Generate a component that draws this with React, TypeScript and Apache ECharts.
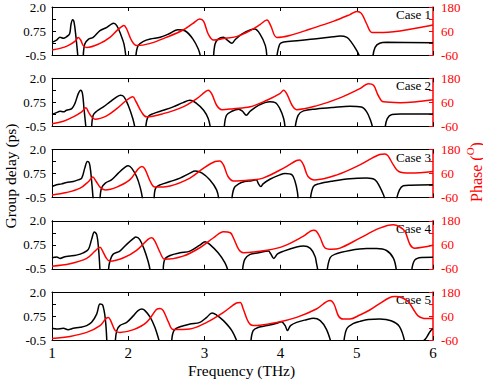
import React, { useEffect, useRef } from "react";
import * as echarts from "echarts";

type P = [number, number | null];

const freqTicks = [1, 2, 3, 4, 5, 6];
const caseNames = ["Case 1", "Case 2", "Case 3", "Case 4", "Case 5"];

const gd1: P[] = [
  [1.0, 0.16], [1.06, 0.28], [1.105, 0.42], [1.15, 0.37], [1.19, 0.45], [1.23, 0.59], [1.25, 1.11], [1.27, 1.34], [1.29, 1.2], [1.315, 0.42], [1.34, -0.6], [1.37, null],
  [1.41, -0.6], [1.43, 0.07], [1.48, 0.33], [1.54, 0.42], [1.63, 0.77], [1.72, 0.94], [1.78, 1.11], [1.81, 1.15], [1.85, 1.03], [1.9, 0.59], [1.945, 0.07], [1.97, -0.6], [2.0, null],
  [2.1, -0.6], [2.13, -0.01], [2.2, 0.21], [2.29, 0.33], [2.42, 0.42], [2.55, 0.63], [2.65, 0.82], [2.75, 0.75], [2.85, 0.33], [2.92, -0.19], [2.95, -0.6], [3.0, null],
  [3.12, -0.6], [3.14, 0.07], [3.18, 0.33], [3.25, 0.42], [3.3, 0.28], [3.36, 0.11], [3.4, 0.28], [3.49, 0.59], [3.6, 0.8], [3.66, 0.85], [3.73, 0.59], [3.8, -0.01], [3.82, -0.6], [3.9, null],
  [3.95, -0.6], [3.99, 0.07], [4.04, 0.18], [4.25, 0.25], [4.47, 0.35], [4.69, 0.45], [4.78, 0.49], [4.87, 0.42], [4.93, 0.16], [5.0, -0.27], [5.04, -0.6], [5.1, null],
  [5.21, -0.6], [5.24, -0.1], [5.3, 0.11], [5.39, 0.16], [6.0, 0.14],
];
const ph1: P[] = [
  [1.0, -35], [1.105, -27], [1.21, -13], [1.3, 8], [1.345, 28], [1.376, 15], [1.41, -13], [1.455, -22], [1.63, -2], [1.76, 28], [1.85, 62], [1.914, 82], [1.945, 87], [1.98, 70], [2.045, 12], [2.11, -13],
  [2.29, -2], [2.5, 28], [2.72, 65], [2.85, 98], [2.94, 120], [2.99, 108], [3.05, 45], [3.12, 15], [3.25, 22], [3.42, 32], [3.6, 62], [3.73, 92], [3.82, 115], [3.87, 87], [3.95, 28],
  [4.12, 38], [4.39, 70], [4.69, 108], [4.91, 142], [5.0, 158], [5.06, 148], [5.13, 95], [5.2, 53], [5.35, 53], [5.79, 75], [6.0, 90],
];

const gd2: P[] = [
  [1.0, 0.11], [1.06, 0.21], [1.105, 0.28], [1.15, 0.25], [1.19, 0.33], [1.26, 0.42], [1.3, 0.68], [1.345, 1.2], [1.376, 1.375], [1.4, 1.2], [1.42, 0.42], [1.446, -0.6], [1.48, null],
  [1.52, -0.6], [1.54, 0.07], [1.586, 0.28], [1.674, 0.51], [1.76, 0.77], [1.85, 1.03], [1.9, 1.11], [1.945, 1.03], [2.0, 0.59], [2.06, -0.1], [2.09, -0.6], [2.15, null],
  [2.23, -0.6], [2.26, -0.01], [2.33, 0.16], [2.46, 0.33], [2.59, 0.51], [2.72, 0.73], [2.81, 0.85], [2.9, 0.68], [2.99, 0.33], [3.05, -0.1], [3.08, -0.6], [3.15, null],
  [3.26, -0.6], [3.29, 0.07], [3.36, 0.28], [3.45, 0.39], [3.5, 0.28], [3.55, 0.07], [3.6, 0.28], [3.71, 0.59], [3.86, 0.77], [3.93, 0.73], [3.99, 0.42], [4.04, -0.1], [4.06, -0.6], [4.12, null],
  [4.19, -0.6], [4.23, 0.07], [4.3, 0.3], [4.47, 0.4], [4.69, 0.48], [4.91, 0.54], [5.06, 0.5], [5.13, 0.25], [5.18, -0.19], [5.21, -0.6], [5.3, null],
  [5.37, -0.6], [5.4, -0.1], [5.46, 0.11], [5.57, 0.14], [6.0, 0.14],
];
const ph2: P[] = [
  [1.0, -47], [1.15, -35], [1.28, -13], [1.39, 12], [1.446, 32], [1.477, 12], [1.52, -13], [1.564, -25], [1.717, -8], [1.85, 28], [1.98, 70], [2.06, 87], [2.1, 65], [2.18, 8], [2.24, -13],
  [2.46, 3], [2.72, 37], [2.9, 78], [3.01, 112], [3.05, 120], [3.095, 103], [3.16, 45], [3.23, 23], [3.38, 28], [3.6, 37], [3.82, 70], [3.99, 103], [4.04, 120], [4.08, 103], [4.15, 45],
  [4.21, 23], [4.47, 42], [4.78, 82], [5.04, 128], [5.15, 153], [5.22, 145], [5.28, 95], [5.35, 62], [5.57, 58], [6.0, 73],
];

const gd3: P[] = [
  [1.0, 0.07], [1.06, 0.16], [1.127, 0.21], [1.19, 0.28], [1.28, 0.33], [1.345, 0.42], [1.39, 0.51], [1.43, 1.03], [1.464, 1.375], [1.49, 1.29], [1.51, 0.77], [1.53, -0.1], [1.54, -0.6], [1.58, null],
  [1.63, -0.6], [1.65, -0.01], [1.7, 0.25], [1.78, 0.42], [1.87, 0.77], [1.96, 1.08], [2.0, 1.15], [2.045, 1.03], [2.11, 0.59], [2.16, -0.01], [2.19, -0.6], [2.25, null],
  [2.34, -0.6], [2.36, -0.01], [2.42, 0.16], [2.55, 0.33], [2.68, 0.51], [2.81, 0.77], [2.88, 0.88], [2.97, 0.77], [3.07, 0.42], [3.16, -0.1], [3.19, -0.6], [3.25, null],
  [3.36, -0.6], [3.39, -0.01], [3.45, 0.21], [3.53, 0.33], [3.62, 0.37], [3.68, 0.42], [3.71, 0.21], [3.74, 0.07], [3.77, 0.21], [3.86, 0.45], [3.99, 0.68], [4.06, 0.75], [4.15, 0.68], [4.19, 0.33], [4.22, -0.19], [4.23, -0.6], [4.3, null],
  [4.39, -0.6], [4.43, 0.07], [4.5, 0.21], [4.69, 0.36], [4.91, 0.48], [5.13, 0.51], [5.24, 0.42], [5.3, 0.07], [5.35, -0.36], [5.37, -0.6], [5.45, null],
  [5.52, -0.6], [5.56, -0.1], [5.61, 0.11], [5.7, 0.14], [6.0, 0.16],
];
const ph3: P[] = [
  [1.0, -47], [1.19, -35], [1.37, -13], [1.48, 20], [1.534, 42], [1.58, 20], [1.63, -8], [1.7, -22], [1.85, -8], [2.02, 28], [2.13, 82], [2.18, 95], [2.22, 82], [2.29, 20], [2.35, -8],
  [2.55, -2], [2.81, 37], [2.99, 87], [3.14, 120], [3.2, 123], [3.25, 103], [3.31, 45], [3.38, 23], [3.6, 28], [3.77, 37], [4.04, 87], [4.21, 125], [4.25, 128], [4.3, 103], [4.36, 45],
  [4.45, 28], [4.74, 53], [5.04, 103], [5.3, 155], [5.37, 158], [5.41, 148], [5.48, 103], [5.55, 70], [5.7, 62], [6.0, 70],
];

const gd4: P[] = [
  [1.0, 0.07], [1.06, 0.11], [1.105, 0.04], [1.17, 0.13], [1.236, 0.16], [1.32, 0.21], [1.41, 0.33], [1.477, 0.51], [1.52, 1.03], [1.556, 1.41], [1.586, 1.29], [1.61, 0.59], [1.63, -0.6], [1.68, null],
  [1.74, -0.6], [1.76, -0.1], [1.8, 0.25], [1.89, 0.42], [1.98, 0.77], [2.07, 1.08], [2.1, 1.15], [2.15, 1.03], [2.21, 0.51], [2.26, -0.1], [2.29, -0.6], [2.35, null],
  [2.46, -0.6], [2.48, -0.01], [2.55, 0.19], [2.68, 0.33], [2.81, 0.42], [2.94, 0.73], [3.01, 0.91], [3.07, 0.77], [3.18, 0.33], [3.27, -0.19], [3.31, -0.6], [3.4, null],
  [3.5, -0.6], [3.53, -0.01], [3.6, 0.25], [3.71, 0.33], [3.84, 0.42], [3.87, 0.28], [3.91, 0.04], [3.96, 0.28], [4.04, 0.42], [4.21, 0.63], [4.3, 0.68], [4.39, 0.56], [4.45, 0.16], [4.47, -0.19], [4.49, -0.6], [4.55, null],
  [4.61, -0.6], [4.65, 0.07], [4.71, 0.25], [4.91, 0.45], [5.13, 0.55], [5.26, 0.55], [5.39, 0.45], [5.48, 0.05], [5.52, -0.6], [5.6, null],
  [5.72, -0.6], [5.76, -0.05], [5.85, 0.09], [6.0, 0.1],
];
const ph4: P[] = [
  [1.0, -47], [1.236, -35], [1.455, -8], [1.564, 28], [1.63, 48], [1.665, 28], [1.71, -5], [1.76, -22], [1.94, -5], [2.11, 32], [2.26, 87], [2.31, 95], [2.35, 78], [2.42, 20], [2.48, -13],
  [2.72, 3], [2.94, 45], [3.12, 95], [3.25, 125], [3.34, 120], [3.38, 95], [3.45, 37], [3.51, 20], [3.82, 32], [4.04, 53], [4.3, 103], [4.43, 133], [4.47, 128], [4.52, 95], [4.58, 45],
  [4.67, 37], [4.78, 43], [5.04, 93], [5.3, 143], [5.48, 160], [5.56, 150], [5.63, 128], [5.7, 60], [5.76, 43], [6.0, 57],
];

const gd5: P[] = [
  [1.0, 0.11], [1.06, 0.07], [1.15, 0.11], [1.21, 0.04], [1.28, 0.11], [1.37, 0.16], [1.455, 0.25], [1.52, 0.42], [1.586, 0.85], [1.63, 1.375], [1.665, 1.32], [1.7, 0.59], [1.72, -0.6], [1.77, null],
  [1.83, -0.6], [1.85, -0.01], [1.89, 0.25], [1.98, 0.42], [2.07, 0.77], [2.13, 1.03], [2.18, 1.11], [2.22, 1.03], [2.29, 0.68], [2.35, 0.16], [2.41, -0.6], [2.5, null],
  [2.57, -0.6], [2.6, -0.01], [2.68, 0.19], [2.81, 0.33], [2.94, 0.42], [3.03, 0.68], [3.1, 0.91], [3.16, 0.8], [3.25, 0.51], [3.36, -0.01], [3.43, -0.6], [3.5, null],
  [3.61, -0.6], [3.64, -0.01], [3.71, 0.16], [3.82, 0.25], [3.95, 0.37], [4.01, 0.45], [4.06, 0.25], [4.09, -0.01], [4.13, 0.25], [4.21, 0.42], [4.34, 0.56], [4.43, 0.63], [4.52, 0.51], [4.6, 0.07], [4.66, -0.6], [4.73, null],
  [4.83, -0.6], [4.87, 0.1], [4.95, 0.35], [5.04, 0.47], [5.15, 0.57], [5.3, 0.59], [5.45, 0.5], [5.56, 0.2], [5.63, -0.6], [5.75, null],
  [5.86, -0.6], [5.9, -0.45], [5.94, -0.2], [5.98, 0.04], [6.0, 0.07],
];
const ph5: P[] = [
  [1.0, -52], [1.236, -42], [1.455, -22], [1.63, 12], [1.71, 48], [1.74, 53], [1.77, 37], [1.83, -13], [1.89, -22], [2.07, -8], [2.24, 28], [2.37, 92], [2.42, 98], [2.46, 87], [2.53, 28],
  [2.59, -8], [2.81, -5], [3.03, 28], [3.25, 78], [3.42, 125], [3.47, 128], [3.51, 95], [3.58, 28], [3.64, 12], [3.95, 28], [4.21, 53], [4.47, 95], [4.65, 137], [4.7, 120], [4.76, 60],
  [4.82, 45], [4.91, 45], [5.04, 65], [5.17, 90], [5.3, 122], [5.42, 150], [5.5, 157], [5.6, 150], [5.68, 130], [5.74, 95], [5.8, 62], [5.88, 48], [6.0, 47],
];

const delaySeries = [gd1, gd2, gd3, gd4, gd5];
const phaseSeries = [ph1, ph2, ph3, ph4, ph5];

const FONT = "'Liberation Serif', 'Times New Roman', serif";
const RED = "#ff0000";

export default function App() {
  const ref = useRef<HTMLDivElement>(null);
  useEffect(() => {
    if (!ref.current) return;
    const chart = echarts.init(ref.current, undefined, { renderer: "svg" });
    const L = 52, R = 50, H = 48, STEP = 71.25, TOP0 = 7;
    const grid: any[] = [];
    const xAxis: any[] = [];
    const yAxis: any[] = [];
    const series: any[] = [];
    const graphic: any[] = [];
    const fmtLeft = (v: number) => (v === 2 ? "2.0" : v === 0.75 ? "0.75" : v === -0.5 ? "-0.5" : "");
    for (let i = 0; i < 5; i++) {
      const top = TOP0 + i * STEP;
      grid.push({ left: L, right: R, top, height: H });
      const last = i === 4;
      xAxis.push({
        type: "value", gridIndex: i, position: "bottom", min: freqTicks[0], max: freqTicks[freqTicks.length - 1], interval: 1,
        axisLine: { show: true, onZero: false, lineStyle: { color: "#000", width: 1 } },
        axisTick: { show: true, inside: true, length: 4, lineStyle: { color: "#000" } },
        axisLabel: { show: last, color: "#000", fontFamily: FONT, fontSize: 15, margin: 5 },
        splitLine: { show: false },
      });
      xAxis.push({
        type: "value", gridIndex: i, position: "top", min: 1, max: 6, interval: 1,
        axisLine: { show: true, onZero: false, lineStyle: { color: "#000", width: 1 } },
        axisTick: { show: true, inside: true, length: 4, lineStyle: { color: "#000" } },
        axisLabel: { show: false },
        splitLine: { show: false },
      });
      yAxis.push({
        type: "value", gridIndex: i, position: "left", min: -0.5, max: 2.0, interval: 1.25,
        axisLine: { show: true, onZero: false, lineStyle: { color: "#000", width: 1 } },
        axisTick: { show: true, inside: true, length: 4, lineStyle: { color: "#000" } },
        minorTick: { show: true, splitNumber: 2, length: 4, lineStyle: { color: "#000" } },
        axisLabel: { color: "#000", fontFamily: FONT, fontSize: 13, margin: 6, formatter: fmtLeft },
        splitLine: { show: false },
      });
      yAxis.push({
        type: "value", gridIndex: i, position: "right", min: -60, max: 180, interval: 120,
        axisLine: { show: true, onZero: false, lineStyle: { color: RED, width: 1.5 } },
        axisTick: { show: true, inside: true, length: 4, lineStyle: { color: RED } },
        minorTick: { show: true, splitNumber: 2, length: 4, lineStyle: { color: RED } },
        axisLabel: { color: RED, fontFamily: FONT, fontSize: 13, margin: 8 },
        splitLine: { show: false },
      });
      series.push({
        type: "line", xAxisIndex: 2 * i, yAxisIndex: 2 * i, data: delaySeries[i], showSymbol: false, symbol: "none",
        smooth: 0.35, connectNulls: false, clip: true, lineStyle: { color: "#000", width: 1.5 },
      });
      series.push({
        type: "line", xAxisIndex: 2 * i, yAxisIndex: 2 * i + 1, data: phaseSeries[i], showSymbol: false, symbol: "none",
        smooth: 0.35, clip: true, lineStyle: { color: RED, width: 1.5 },
      });
      graphic.push({
        type: "text", right: R + 2, top: top + 1,
        style: { text: caseNames[i], fill: "#000", fontFamily: FONT, fontSize: 13 },
      });
    }
    graphic.push({
      type: "text", left: 188, top: 362,
      style: { text: "Frequency (THz)", fill: "#000", fontFamily: FONT, fontSize: 15.5 },
    });
    graphic.push({
      type: "text", x: 2, y: 176, rotation: Math.PI / 2,
      style: { text: "Group delay (ps)", fill: "#000", fontFamily: FONT, fontSize: 15.5, align: "center", verticalAlign: "top" },
    });
    graphic.push({
      type: "text", x: 474, y: 172, rotation: Math.PI / 2,
      style: {
        text: "{a|Phase (}{s|O}{a|)}", align: "center", verticalAlign: "middle",
        rich: {
          a: { fill: RED, fontFamily: FONT, fontSize: 16, lineHeight: 20, verticalAlign: "bottom" },
          s: { fill: RED, fontFamily: FONT, fontSize: 11, lineHeight: 20, verticalAlign: "top" },
        },
      },
    });
    chart.setOption({
      animation: false,
      backgroundColor: "#fff",
      grid, xAxis, yAxis, series, graphic,
    });
    return () => chart.dispose();
  }, []);
  return <div ref={ref} style={{ position: "fixed", left: 0, top: 0, width: 483, height: 380 }} />;
}
